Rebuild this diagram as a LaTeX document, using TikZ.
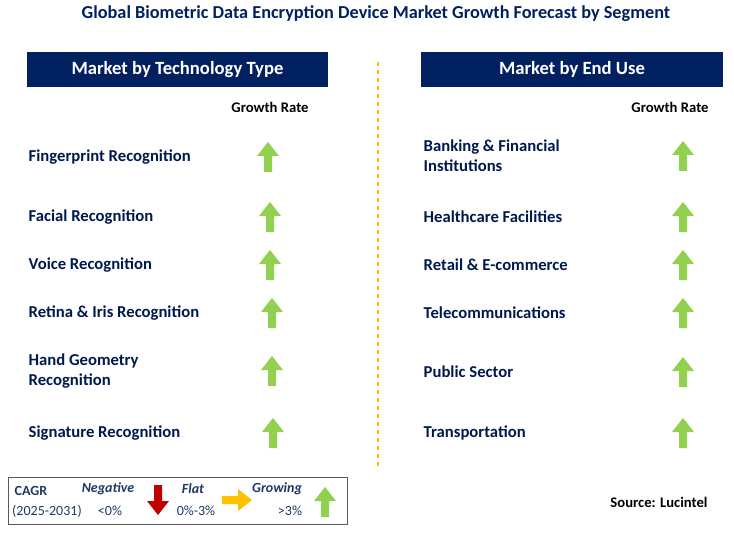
\documentclass[tikz,border=0pt]{standalone}
\usepackage{fontspec}
\setmainfont{Carlito}
\usetikzlibrary{positioning}
\definecolor{navy}{RGB}{0,32,96}
\definecolor{grn}{RGB}{146,208,80}
\definecolor{dred}{RGB}{192,0,0}
\definecolor{ylw}{RGB}{255,192,0}
\definecolor{lblue}{RGB}{31,56,100}
\tikzset{
  head box/.style={fill=navy,text=white,font=\bfseries\fontsize{14}{16}\selectfont,minimum width=226pt,minimum height=26pt},
  item/.style={anchor=west,font=\bfseries\fontsize{12.5}{15}\selectfont,text=navy!80!black,align=left},
  rate/.style={font=\bfseries\fontsize{11}{13}\selectfont},
  leg/.style={font=\fontsize{10.5}{12}\selectfont,text=lblue},
  legi/.style={font=\bfseries\itshape\fontsize{10.5}{12}\selectfont,text=lblue},
  pics/uparr/.style={code={\fill[#1] (-4,15)--(4,15)--(4,-1)--(11,-1)--(0,-15)--(-11,-1)--(-4,-1)--cycle;}},
}
\begin{document}
\begin{tikzpicture}[x=0.75pt,y=-0.75pt]
  \useasboundingbox (0,0) rectangle (734,538);
  \node[font=\bfseries\fontsize{13.7}{16}\selectfont,text=navy] (title) at (376,14) {Global Biometric Data Encryption Device Market Growth Forecast by Segment};
  \node[head box] (tech) at (177.5,69.5) {Market by Technology Type};
  \node[head box] (use) at (572,69.5) {Market by End Use};
  \coordinate (dtop) at (378,62);
  \coordinate (dbot) at (378,470);
  \draw[ylw,dashed,thick] (dtop) -- (dbot);
  \node[rate] (gr1) at (270,107) {Growth Rate};
  \node[rate] (gr2) at (670,107) {Growth Rate};
  % technology type
  \foreach \y/\x/\t [count=\i] in {157/268/Fingerprint Recognition,217/270/Facial Recognition,265/270/Voice Recognition,313/272/Retina \& Iris Recognition,371/272/{Hand Geometry\\Recognition},433/273/Signature Recognition}{
    \node[item] (tl\i) at (24,\y) {\t};
    \pic at (\x,\y) {uparr=grn};
  }
  % end use
  \foreach \y/\t [count=\i] in {156/{Banking \& Financial\\Institutions},217/Healthcare Facilities,265/Retail \& E-commerce,313/Telecommunications,372/Public Sector,433/Transportation}{
    \node[item] (ul\i) at (419,\y) {\t};
    \pic at (683,\y) {uparr=grn};
  }
  % legend
  \draw[gray!70!black] (8,477) rectangle (347,524);
  \node[leg,font=\bfseries\fontsize{10.5}{12}\selectfont] (cagr) at (31,491) {CAGR};
  \node[leg] (yrs) at (47,511) {(2025-2031)};
  \node[legi] (neg) at (108,489) {Negative};
  \node[leg] (lt) at (110,511) {<0\%};
  \pic[rotate=180] at (158,500) {uparr=dred};
  \node[legi] (flat) at (193,489) {Flat};
  \node[leg] (fl) at (196,511) {0\%-3\%};
  \pic[rotate=-90] at (237,500) {uparr=ylw};
  \node[legi] (grow) at (277,489) {Growing};
  \node[leg] (gt) at (290,511) {>3\%};
  \pic at (325,502) {uparr=grn};
  \node[font=\bfseries\fontsize{11}{13}\selectfont] (src) at (659,502) {Source: Lucintel};
\end{tikzpicture}
\end{document}
